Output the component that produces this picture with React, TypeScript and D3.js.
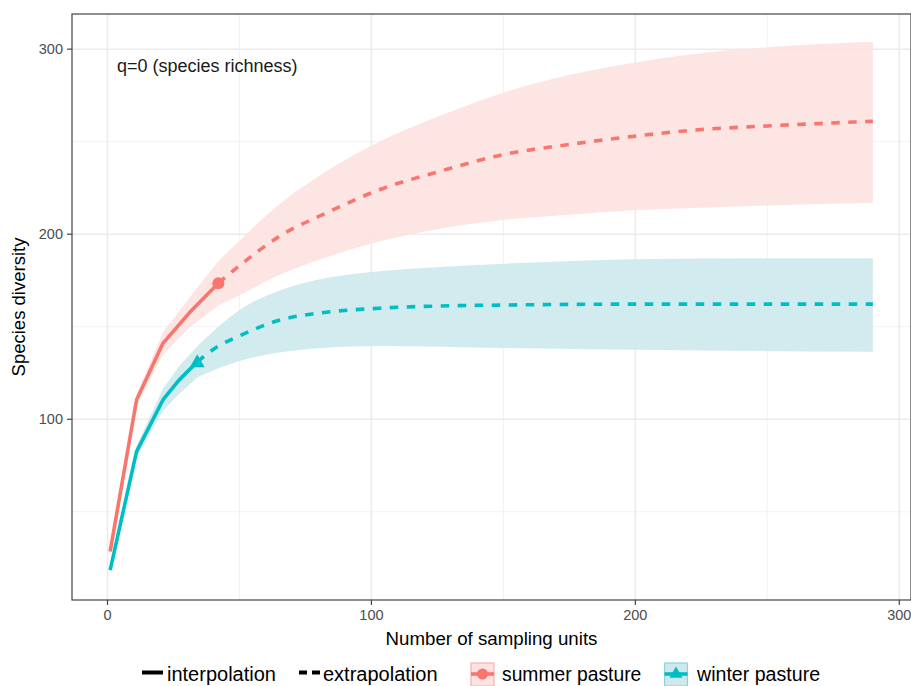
import React from "react";
import * as d3 from "d3";

// ---- data ----
const summerInterpX = [1, 11, 21, 31, 42];
const summerInterpY = [28.5, 110.4, 141, 157.5, 173.5];
const summerInterpLo = [27.5, 107.5, 135, 149.5, 161.5];
const summerInterpHi = [29.5, 113.3, 147, 165.5, 185.5];

const summerExtX = [42, 50, 65, 84, 103, 126, 150, 175, 200, 220, 250, 290];
const summerExtY = [173.5, 183, 198.7, 212.2, 224, 234, 243, 248.5, 253, 256, 258.5, 261];
const summerExtLo = [161.5, 167, 178, 188, 196, 203, 207.7, 210.5, 213, 214, 215.5, 217];
const summerExtHi = [185.5, 196.5, 216, 235, 250, 264, 276.5, 286, 292.8, 297, 301, 304];

const winterInterpX = [1, 11, 21, 27, 34];
const winterInterpY = [18.5, 82.5, 110.4, 121, 131];
const winterInterpLo = [17.5, 79.5, 104.5, 113.5, 122.5];
const winterInterpHi = [19.5, 85.5, 116.5, 128.5, 139.5];

const winterExtX = [34, 42, 50, 65, 80, 103, 126, 150, 200, 250, 290];
const winterExtY = [131, 139.5, 145, 153.5, 157.3, 160, 161.2, 161.7, 162.2, 162.2, 162.2];
const winterExtLo = [122.5, 127.5, 131.5, 136, 138.4, 139.6, 139.2, 138.5, 137.5, 136.8, 136.5];
const winterExtHi = [139.5, 150, 159, 169.5, 175.5, 180, 182.3, 184, 186.5, 187, 187];

const xTicks = [0, 100, 200, 300];
const xMinor = [50, 150, 250];
const yTicks = [100, 200, 300];
const yMinor = [50, 150, 250];

const seriesNames = ["summer pasture", "winter pasture"];
const methodNames = ["interpolation", "extrapolation"];
const annotation = "q=0 (species richness)";
const xTitle = "Number of sampling units";
const yTitle = "Species diversity";

const RED = "#F8766D";
const TEAL = "#00BFC4";
const RED_BAND = "#FDE2E1";
const TEAL_BAND = "#CDE9EC";

type P = { x: number; y: number; lo: number; hi: number };
const zip = (xs: number[], ys: number[], lo: number[], hi: number[]): P[] =>
  xs.map((x, i) => ({ x, y: ys[i], lo: lo[i], hi: hi[i] }));

export default function App() {
  const W = 911, H = 686;
  const left = 72, right = 911, top = 14, bottom = 600;
  const x = d3.scaleLinear().domain([-13.45, 304.45]).range([left, right]);
  const y = d3.scaleLinear().domain([2.3, 319]).range([bottom, top]);

  const sI = zip(summerInterpX, summerInterpY, summerInterpLo, summerInterpHi);
  const sE = zip(summerExtX, summerExtY, summerExtLo, summerExtHi);
  const wI = zip(winterInterpX, winterInterpY, winterInterpLo, winterInterpHi);
  const wE = zip(winterExtX, winterExtY, winterExtLo, winterExtHi);

  const areaLin = d3.area<P>().x(d => x(d.x)).y0(d => y(d.lo)).y1(d => y(d.hi)).curve(d3.curveLinear);
  const areaSm = d3.area<P>().x(d => x(d.x)).y0(d => y(d.lo)).y1(d => y(d.hi)).curve(d3.curveMonotoneX);
  const lineLin = d3.line<P>().x(d => x(d.x)).y(d => y(d.y)).curve(d3.curveLinear);
  const lineSm = d3.line<P>().x(d => x(d.x)).y(d => y(d.y)).curve(d3.curveMonotoneX);

  const tri = d3.symbol().type(d3.symbolTriangle).size(95)();
  const triSmall = d3.symbol().type(d3.symbolTriangle).size(75)();

  const sObs = sI[sI.length - 1];
  const wObs = wI[wI.length - 1];
  const font = "Liberation Sans, Arial, Helvetica, sans-serif";
  const legY = 674;

  return (
    <svg width={W} height={H} style={{ position: "absolute", left: 0, top: 0, background: "#fff" }} fontFamily={font}>
      <rect x={0} y={0} width={W} height={H} fill="#fff" />
      <defs>
        <clipPath id="panel"><rect x={left} y={top} width={right - left} height={bottom - top} /></clipPath>
      </defs>
      {/* grid */}
      <g clipPath="url(#panel)">
        {xMinor.map(v => <line key={"xm" + v} x1={x(v)} x2={x(v)} y1={top} y2={bottom} stroke="#F2F2F2" strokeWidth={1} />)}
        {yMinor.map(v => <line key={"ym" + v} x1={left} x2={right} y1={y(v)} y2={y(v)} stroke="#F2F2F2" strokeWidth={1} />)}
        {xTicks.map(v => <line key={"xg" + v} x1={x(v)} x2={x(v)} y1={top} y2={bottom} stroke="#EBEBEB" strokeWidth={1.5} />)}
        {yTicks.map(v => <line key={"yg" + v} x1={left} x2={right} y1={y(v)} y2={y(v)} stroke="#EBEBEB" strokeWidth={1.5} />)}

        {/* bands */}
        <path d={areaLin(sI) || ""} fill={RED_BAND} fillOpacity={0.9} />
        <path d={areaSm(sE) || ""} fill={RED_BAND} fillOpacity={0.9} />
        <path d={areaLin(wI) || ""} fill={TEAL_BAND} fillOpacity={0.9} />
        <path d={areaSm(wE) || ""} fill={TEAL_BAND} fillOpacity={0.9} />

        {/* lines */}
        <path d={lineLin(sI) || ""} fill="none" stroke={RED} strokeWidth={3.6} strokeLinejoin="round" />
        <path d={lineSm(sE) || ""} fill="none" stroke={RED} strokeWidth={3.6} strokeDasharray="8.5 8.5" />
        <path d={lineLin(wI) || ""} fill="none" stroke={TEAL} strokeWidth={3.6} strokeLinejoin="round" />
        <path d={lineSm(wE) || ""} fill="none" stroke={TEAL} strokeWidth={3.6} strokeDasharray="8.5 8.5" />

        {/* observed points */}
        <circle cx={x(sObs.x)} cy={y(sObs.y)} r={6} fill={RED} />
        <path d={tri || ""} transform={`translate(${x(wObs.x)},${y(wObs.y) + 1})`} fill={TEAL} />
      </g>

      {/* panel border */}
      <rect x={left} y={top} width={right - left} height={bottom - top} fill="none" stroke="#444" strokeWidth={1.2} />

      {/* axes ticks */}
      {xTicks.map(v => (
        <g key={"xt" + v}>
          <line x1={x(v)} x2={x(v)} y1={bottom} y2={bottom + 5} stroke="#444" strokeWidth={1.2} />
          <text x={x(v)} y={bottom + 20} textAnchor="middle" fontSize={14.5} fill="#4D4D4D">{v}</text>
        </g>
      ))}
      {yTicks.map(v => (
        <g key={"yt" + v}>
          <line x1={left - 5} x2={left} y1={y(v)} y2={y(v)} stroke="#444" strokeWidth={1.2} />
          <text x={left - 9} y={y(v)} dy="0.35em" textAnchor="end" fontSize={14.5} fill="#4D4D4D">{v}</text>
        </g>
      ))}

      {/* annotation */}
      <text x={117} y={72} fontSize={18} fill="#1a1a1a">{annotation}</text>

      {/* axis titles */}
      <text x={(left + right) / 2} y={645} textAnchor="middle" fontSize={18.7} fill="#000">{xTitle}</text>
      <text transform={`translate(25,${(top + bottom) / 2}) rotate(-90)`} textAnchor="middle" fontSize={18.5} fill="#000">{yTitle}</text>

      {/* legend */}
      <line x1={142} x2={163} y1={legY - 1.5} y2={legY - 1.5} stroke="#000" strokeWidth={4} />
      <text x={167} y={legY + 7} fontSize={20} fill="#000">{methodNames[0]}</text>
      <line x1={299} x2={320} y1={legY - 1.5} y2={legY - 1.5} stroke="#000" strokeWidth={4} strokeDasharray="8 5" />
      <text x={323} y={legY + 7} fontSize={20} fill="#000">{methodNames[1]}</text>

      <rect x={471} y={legY - 11} width={23} height={23} fill={RED_BAND} stroke="#F4B3AE" strokeWidth={1.2} />
      <line x1={471} x2={494} y1={legY} y2={legY} stroke={RED} strokeWidth={3.6} />
      <circle cx={482.5} cy={legY} r={5.5} fill={RED} />
      <text x={502} y={legY + 7} fontSize={19.3} fill="#000">{seriesNames[0]}</text>

      <rect x={664.5} y={legY - 11} width={23} height={23} fill={TEAL_BAND} stroke="#8DD3D6" strokeWidth={1.2} />
      <line x1={664.5} x2={687.5} y1={legY} y2={legY} stroke={TEAL} strokeWidth={3.6} />
      <path d={triSmall || ""} transform={`translate(676,${legY})`} fill={TEAL} />
      <text x={697} y={legY + 7} fontSize={19.6} fill="#000">{seriesNames[1]}</text>
    </svg>
  );
}
